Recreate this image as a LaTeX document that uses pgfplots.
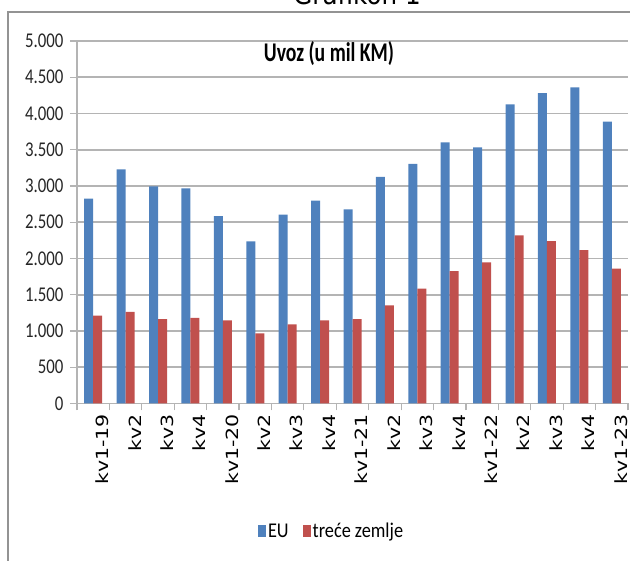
\documentclass[border=0pt]{standalone}
\usepackage{fontspec}
\usepackage{graphicx}
\usepackage{pgfplots}
\pgfplotsset{compat=1.18}
\setmainfont{Carlito}
\newfontfamily\ytfont[FakeStretch=0.8]{Carlito}
\newfontfamily\lgfont[FakeStretch=0.87]{Carlito}
\newfontfamily\ttlfont[FakeStretch=0.73]{Carlito}
\newfontfamily\xfont{DejaVu Sans}
\newfontfamily\grfont[FakeStretch=0.88]{DejaVu Sans}
\definecolor{eublue}{HTML}{4F81BD}
\definecolor{tzred}{HTML}{C0504D}
\definecolor{gridgray}{HTML}{B4B4B4}
\newcommand{\xl}[1]{\scalebox{1}[0.82]{#1}}
\begin{document}
\begin{tikzpicture}
\useasboundingbox (0,0) rectangle (630pt,561pt);
% outer frame
\draw[color=gray!85, line width=1.6pt] (8pt,-5pt) -- (8pt,549pt) -- (640pt,549pt);
\node[font=\grfont\fontsize{28}{28}\selectfont, anchor=base] at (357pt,556pt) {Grafikon 1};
\begin{axis}[
  at={(77pt,157.5pt)}, anchor=south west,
  scale only axis, width=551pt, height=362.5pt,
  ybar=0pt, bar width=9pt,
  xmin=-0.5, xmax=16.5, ymin=0, ymax=5000,
  axis x line*=bottom, axis y line*=left,
  axis line style={draw=gridgray, line width=1.2pt, -},
  xtick={0,...,16},
  xticklabels={\xl{kv1-19},\xl{kv2},\xl{kv3},\xl{kv4},\xl{kv1-20},\xl{kv2},\xl{kv3},\xl{kv4},\xl{kv1-21},\xl{kv2},\xl{kv3},\xl{kv4},\xl{kv1-22},\xl{kv2},\xl{kv3},\xl{kv4},\xl{kv1-23}},
  minor xtick={-0.5,0.5,...,16.5},
  major x tick style={draw=none},
  minor x tick style={draw=gridgray, line width=1.2pt},
  minor tick length=7pt,
  major tick length=7pt,
  tick align=outside,
  ytick={0,500,...,5000},
  yticklabels={0,500,1.000,1.500,2.000,2.500,3.000,3.500,4.000,4.500,5.000},
  major y tick style={draw=gridgray, line width=1.2pt},
  ymajorgrids,
  major grid style={draw=gridgray, line width=1.6pt},
  yticklabel style={font=\ytfont\fontsize{21}{21}\selectfont, text=black!85, anchor=east, xshift=-3pt},
  xticklabel style={font=\xfont\fontsize{20.5}{20.5}\selectfont, rotate=90, anchor=east, yshift=-9pt, text=black},
  legend style={at={(0.462,-0.352)}, anchor=center, draw=none, fill=none,
    legend columns=2, font=\lgfont\fontsize{21}{21}\selectfont,
    /tikz/every even column/.append style={column sep=12pt},
    legend cell align=left, inner sep=0pt},
  legend image code/.code={\fill[#1] (0pt,-6pt) rectangle (8pt,6pt);},
]
\addplot[fill=eublue, draw=none] coordinates {
(0,2826) (1,3230) (2,2995) (3,2966) (4,2586) (5,2237) (6,2604) (7,2798)
(8,2677) (9,3127) (10,3305) (11,3603) (12,3534) (13,4126) (14,4280) (15,4360) (16,3887)};
\addplot[fill=tzred, draw=none] coordinates {
(0,1212) (1,1263) (2,1163) (3,1180) (4,1145) (5,967) (6,1090) (7,1145)
(8,1163) (9,1355) (10,1584) (11,1827) (12,1946) (13,2318) (14,2241) (15,2117) (16,1860)};
\legend{EU,treće zemlje}
\end{axis}
\node[font=\ttlfont\fontsize{27}{27}\selectfont\bfseries] at (329pt,507pt) {Uvoz (u mil KM)};
\end{tikzpicture}
\end{document}
